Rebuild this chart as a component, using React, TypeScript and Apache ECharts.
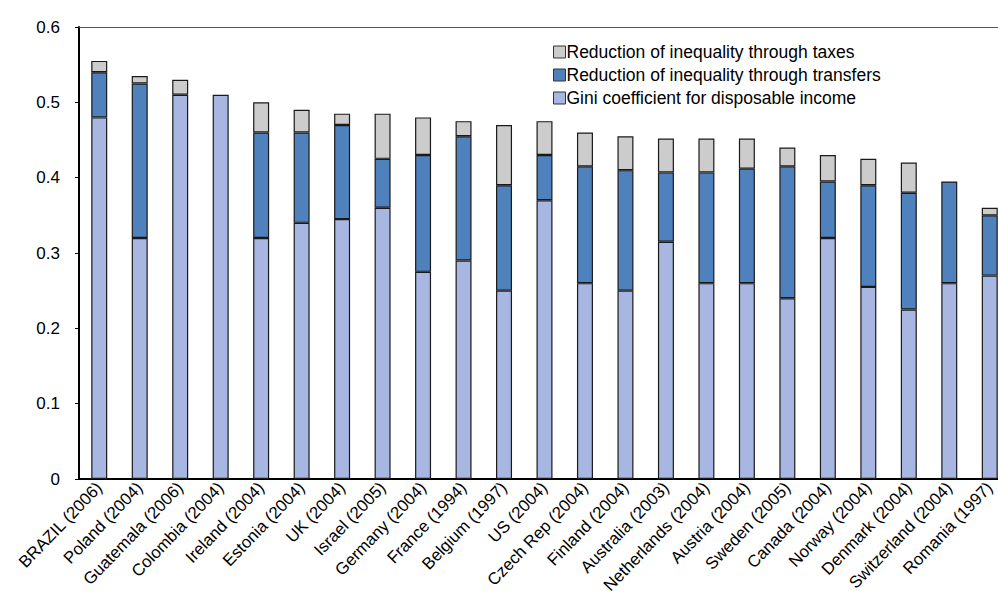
import React, { useEffect, useRef } from "react";
import * as echarts from "echarts";

const categories = [
  "BRAZIL (2006)", "Poland (2004)", "Guatemala (2006)", "Colombia (2004)", "Ireland (2004)",
  "Estonia (2004)", "UK (2004)", "Israel (2005)", "Germany (2004)", "France (1994)",
  "Belgium (1997)", "US (2004)", "Czech Rep (2004)", "Finland (2004)", "Australia (2003)",
  "Netherlands (2004)", "Austria (2004)", "Sweden (2005)", "Canada (2004)", "Norway (2004)",
  "Denmark (2004)", "Switzerland (2004)", "Romania (1997)",
];

const giniDisposable = [
  0.48, 0.32, 0.51, 0.51, 0.32, 0.34, 0.345, 0.36, 0.275, 0.29, 0.25, 0.37,
  0.26, 0.25, 0.315, 0.26, 0.26, 0.24, 0.32, 0.255, 0.225, 0.26, 0.27,
];

const transfersReduction: (number | string)[] = [
  0.06, 0.205, "-", "-", 0.14, 0.12, 0.125, 0.065, 0.155, 0.165, 0.14, 0.06,
  0.155, 0.16, 0.092, 0.147, 0.152, 0.175, 0.075, 0.135, 0.155, 0.135, 0.08,
];

const taxesReduction: (number | string)[] = [
  0.015, 0.01, 0.02, "-", 0.04, 0.03, 0.015, 0.06, 0.05, 0.02, 0.08, 0.045,
  0.045, 0.045, 0.045, 0.045, 0.04, 0.025, 0.035, 0.035, 0.04, "-", 0.01,
];

const yTicks = [0, 0.1, 0.2, 0.3, 0.4, 0.5, 0.6];

const FONT = "Arial, 'Liberation Sans', sans-serif";

export default function App() {
  const ref = useRef<HTMLDivElement>(null);

  useEffect(() => {
    if (!ref.current) return;
    const chart = echarts.init(ref.current, undefined, { renderer: "svg" });
    const border = { borderColor: "#1a1a1a", borderWidth: 1.2 };
    chart.setOption({
      animation: false,
      backgroundColor: "#fff",
      textStyle: { fontFamily: FONT },
      grid: {
        left: 79,
        top: 27,
        bottom: 120,
        right: -12,
        containLabel: false,
        outerBoundsMode: "none",
      },
      legend: {
        orient: "vertical",
        left: 548,
        top: 38,
        itemWidth: 12,
        itemHeight: 12,
        itemGap: 5,
        icon: "rect",
        textStyle: { fontSize: 17.5, color: "#000", fontFamily: FONT, padding: [0, 0, 0, -4] },
        data: [
          { name: "Reduction of inequality through taxes", itemStyle: { borderColor: "#333", borderWidth: 1 } },
          { name: "Reduction of inequality through transfers", itemStyle: { borderColor: "#333", borderWidth: 1 } },
          { name: "Gini coefficient for disposable income", itemStyle: { borderColor: "#333", borderWidth: 1 } },
        ],
      },
      xAxis: [
        {
          type: "category",
          data: categories,
          axisLine: { lineStyle: { color: "#000", width: 2 } },
          axisTick: { show: false },
          axisLabel: {
            rotate: 46,
            interval: 0,
            fontSize: 16.8,
            color: "#000",
            fontFamily: FONT,
            margin: 6,
          },
        },
        {
          type: "category",
          position: "top",
          data: categories,
          axisLine: { lineStyle: { color: "#555", width: 1 } },
          axisTick: { show: false },
          axisLabel: { show: false },
        },
      ],
      yAxis: {
        type: "value",
        min: 0,
        max: 0.6,
        interval: 0.1,
        axisLine: { show: true, lineStyle: { color: "#000", width: 2 } },
        axisTick: { show: true, length: 4, lineStyle: { color: "#000" } },
        splitLine: { show: false },
        axisLabel: {
          fontSize: 17,
          color: "#000",
          fontFamily: FONT,
          margin: 19,
          formatter: (v: number) => {
            const t = yTicks.find((x) => Math.abs(x - v) < 1e-9);
            return t === 0 ? "0" : String(Math.round((t ?? v) * 10) / 10);
          },
        },
      },
      series: [
        {
          name: "Gini coefficient for disposable income",
          type: "bar",
          stack: "g",
          barWidth: 16,
          data: giniDisposable,
          itemStyle: { color: "#a7b7e2", ...border },
        },
        {
          name: "Reduction of inequality through transfers",
          type: "bar",
          stack: "g",
          barWidth: 16,
          data: transfersReduction,
          itemStyle: { color: "#4f81bd", ...border },
        },
        {
          name: "Reduction of inequality through taxes",
          type: "bar",
          stack: "g",
          barWidth: 16,
          data: taxesReduction,
          itemStyle: { color: "#cccccc", ...border },
        },
      ],
    });
    return () => chart.dispose();
  }, []);

  return (
    <div
      ref={ref}
      style={{ position: "absolute", left: 0, top: 0, width: 998, height: 599 }}
    />
  );
}
